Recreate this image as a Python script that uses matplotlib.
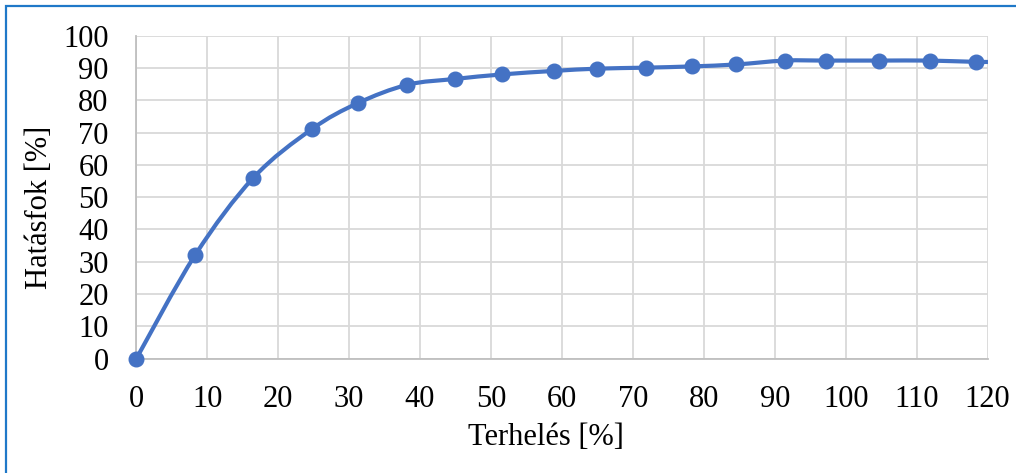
import numpy as np
import matplotlib.pyplot as plt
from matplotlib.path import Path
from matplotlib.patches import PathPatch, Rectangle

# load (%) vs efficiency (%)
terheles = [0, 8.3, 16.5, 24.7, 31.2, 38.2, 44.9, 51.5, 58.9, 65.0, 71.8,
            78.4, 84.6, 91.4, 97.3, 104.7, 111.9, 118.4, 125.0]
hatasfok = [0, 32.1, 56.0, 71.0, 79.1, 84.8, 86.6, 88.0, 89.1, 89.8, 90.1,
            90.5, 91.1, 92.3, 92.3, 92.3, 92.3, 91.9, 91.8]

xticks = list(range(0, 121, 10))
yticks = list(range(0, 101, 10))

blue = '#4472C4'
plt.rcParams['font.family'] = ['Liberation Serif', 'DejaVu Serif']

fig = plt.figure(figsize=(10.16, 4.73), dpi=100)
ax = fig.add_axes([136.3/1016, 1-358.7/473, (987.5-136.3)/1016, (358.7-35.7)/473])

# smoothed line: cubic Bezier segments (Catmull-Rom style control points)
pts = np.column_stack([terheles, hatasfok])
n = len(pts)
verts = [pts[0]]
codes = [Path.MOVETO]
for i in range(n - 1):
    p0 = pts[max(i - 1, 0)]
    p1 = pts[i]
    p2 = pts[i + 1]
    p3 = pts[min(i + 2, n - 1)]
    c1 = p1 + (p2 - p0) / 6.0
    c2 = p2 - (p3 - p1) / 6.0
    verts += [c1, c2, p2]
    codes += [Path.CURVE4] * 3
ax.add_patch(PathPatch(Path(verts, codes), facecolor='none', edgecolor=blue,
                       lw=3.0, capstyle='round', zorder=3))
# markers only for points inside the x range, not clipped at the axes edge
inside = [i for i, x in enumerate(terheles) if x <= 120]
ax.plot(terheles, hatasfok, 'o', color=blue, ms=10.5, zorder=4,
        markevery=inside, clip_on=False)

ax.set_xlim(0, 120)
ax.set_ylim(0, 100)
ax.set_xticks(xticks)
ax.set_yticks(yticks)
ax.grid(True, color='#d9d9d9', lw=1.3)
ax.set_axisbelow(True)
for s in ['top', 'right']:
    ax.spines[s].set_visible(False)
for s in ['left', 'bottom']:
    ax.spines[s].set_color('#bfbfbf')
    ax.spines[s].set_linewidth(1.3)
ax.tick_params(length=0, labelsize=22, colors='black')
ax.tick_params(axis='y', pad=20)
ax.tick_params(axis='x', pad=19)

ax.set_xlabel('Terhelés [%]', fontsize=22)
ax.set_ylabel('Hatásfok [%]', fontsize=22)
ax.xaxis.set_label_coords((546-136.3)/(987.5-136.3), -(423-358.7)/(358.7-35.7))
ax.yaxis.set_label_coords(-(136.3-54)/(987.5-136.3), (358.7-207)/(358.7-35.7))

# chart frame
fig.patches.append(Rectangle((6/1016, -0.1), 1.2, 1-6/473+0.1, transform=fig.transFigure,
                             fill=False, edgecolor='#1f78c8', lw=1.6))

fig.savefig('out.png', dpi=100)
